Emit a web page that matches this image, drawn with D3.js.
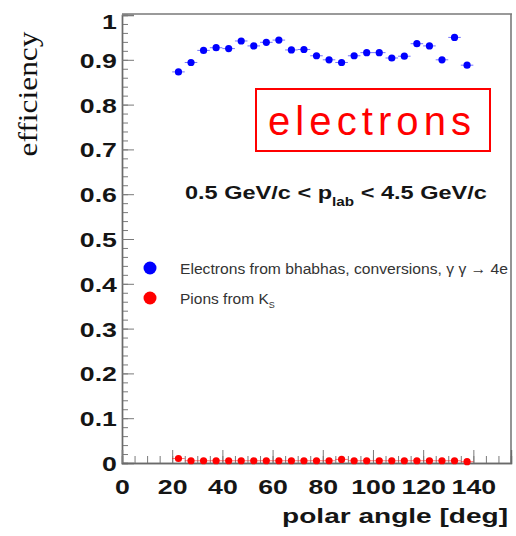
<!DOCTYPE html>
<html>
<head>
<meta charset="utf-8">
<script src="https://cdn.jsdelivr.net/npm/d3@7"></script>
<style>
  html, body { margin: 0; padding: 0; background: #fff; }
  svg { display: block; }
</style>
</head>
<body>
<svg id="chart" width="516" height="536"></svg>
<script>
// Polar-angle bin centres (deg) and half bin width
const angles = [22.5, 27.5, 32.5, 37.5, 42.5, 47.5, 52.5, 57.5, 62.5, 67.5, 72.5, 77.5,
                82.5, 87.5, 92.5, 97.5, 102.5, 107.5, 112.5, 117.5, 122.5, 127.5, 132.5, 137.5];
const binHalfWidth = 2.5;

// Identification efficiency per bin
const electronEff = [0.873, 0.894, 0.921, 0.927, 0.925, 0.942, 0.931, 0.939, 0.944, 0.922, 0.923, 0.909,
                     0.900, 0.894, 0.909, 0.916, 0.916, 0.904, 0.908, 0.936, 0.931, 0.900, 0.950, 0.888];
const pionEff = [0.010, 0.005, 0.005, 0.005, 0.005, 0.005, 0.005, 0.005, 0.005, 0.005, 0.005, 0.005,
                 0.005, 0.008, 0.005, 0.005, 0.005, 0.005, 0.005, 0.005, 0.005, 0.005, 0.005, 0.003];

// Axis ticks
const yMajorTicks = [0, 0.1, 0.2, 0.3, 0.4, 0.5, 0.6, 0.7, 0.8, 0.9, 1];
const yMinorTicks = d3.range(0, 1.0001, 0.02);
const xMajorTicks = [0, 20, 40, 60, 80, 100, 120, 140];
const xMinorTicks = d3.range(0, 155.01, 5);

// Legend entries
const legendLabels = ["Electrons from bhabhas, conversions, \u03B3 \u03B3 \u2192 4e", "Pions from K"];
const seriesColors = ["#0000ff", "#ff0000"];

const svg = d3.select("#chart");
const plotLeft = 122, plotRight = 511, plotTop = 15, plotBottom = 463;

const x = d3.scaleLinear().domain([0, 155]).range([plotLeft, plotRight]);
const y = d3.scaleLinear().domain([0, 1]).range([plotBottom, plotTop]);

const sansBold = "'Liberation Sans', Arial, Helvetica, sans-serif";
const stretch = 1.27;

// Frame (top and right edges)
svg.append("line").attr("x1", plotLeft).attr("x2", plotRight + 1).attr("y1", 14).attr("y2", 14)
  .attr("stroke", "#9a9a9a").attr("stroke-width", 2);
svg.append("line").attr("x1", plotRight).attr("x2", plotRight).attr("y1", 14).attr("y2", plotBottom)
  .attr("stroke", "#7a7a7a").attr("stroke-width", 1.6);

// Y axis: ticks pointing inside, labels on the left
const yMinor = svg.append("g").attr("transform", `translate(${plotLeft},0)`)
  .call(d3.axisRight(y).tickValues(yMinorTicks).tickSize(6).tickFormat(""));
const yMajor = svg.append("g").attr("transform", `translate(${plotLeft},0)`)
  .call(d3.axisRight(y).tickValues(yMajorTicks).tickSize(12).tickFormat(""));
[yMinor, yMajor].forEach(g => {
  g.select(".domain").attr("stroke", "#6a6a6a").attr("stroke-width", 1.4);
  g.selectAll(".tick line").attr("stroke", "#7a7a7a");
});

const yLabels = svg.append("g").attr("transform", `translate(${plotLeft},0)`)
  .call(d3.axisLeft(y).tickValues(yMajorTicks).tickSize(0).tickPadding(4)
    .tickFormat(d => d === 0 ? "0" : d === 1 ? "1" : d3.format(".1f")(d)));
yLabels.select(".domain").remove();
yLabels.selectAll(".tick text")
  .attr("font-family", sansBold).attr("font-weight", "bold").attr("font-size", 21)
  .attr("fill", "#151515")
  .attr("dy", d => d === 1 ? "0.62em" : "0.36em")
  .attr("transform", `scale(${stretch},1)`);

// X axis: ticks pointing up, labels below
const xMinor = svg.append("g").attr("transform", `translate(0,${plotBottom})`)
  .call(d3.axisTop(x).tickValues(xMinorTicks).tickSize(7).tickFormat(""));
const xMajor = svg.append("g").attr("transform", `translate(0,${plotBottom})`)
  .call(d3.axisTop(x).tickValues(xMajorTicks).tickSize(13).tickFormat(""));
[xMinor, xMajor].forEach(g => {
  g.select(".domain").attr("stroke", "#6a6a6a").attr("stroke-width", 1.4);
  g.selectAll(".tick line").attr("stroke", "#7a7a7a");
});

const xLabels = svg.append("g").attr("transform", `translate(0,${plotBottom})`)
  .call(d3.axisBottom(x).tickValues(xMajorTicks).tickSize(0).tickPadding(0).tickFormat(d3.format("d")));
xLabels.select(".domain").remove();
xLabels.selectAll(".tick text")
  .attr("font-family", sansBold).attr("font-weight", "bold").attr("font-size", 21)
  .attr("fill", "#151515")
  .attr("y", 31).attr("dy", 0)
  .attr("transform", `scale(${stretch},1)`);

// Scale a text element horizontally so that it spans a given width
function fitWidth(sel, x0, y0, width, anchor) {
  const w = sel.node().getComputedTextLength();
  const k = width / w;
  sel.attr("text-anchor", anchor || "start")
     .attr("transform", `translate(${x0},${y0}) scale(${k},1)`);
}

// Axis titles
const xTitle = svg.append("text")
  .attr("font-family", sansBold).attr("font-weight", "bold").attr("font-size", 21)
  .attr("fill", "#151515").text("polar angle [deg]");
fitWidth(xTitle, 508, 523, 226, "end");

svg.append("text")
  .attr("transform", "translate(37,94) rotate(-90)")
  .attr("text-anchor", "middle")
  .attr("font-family", "'Liberation Serif', 'Times New Roman', serif")
  .attr("font-size", 27).attr("fill", "#111")
  .attr("textLength", 125).attr("lengthAdjust", "spacingAndGlyphs")
  .text("efficiency");

// Momentum range caption
const caption = svg.append("text")
  .attr("font-family", sansBold).attr("font-weight", "bold").attr("font-size", 18.5)
  .attr("fill", "#151515");
caption.append("tspan").text("0.5 GeV/c < p");
caption.append("tspan").attr("font-size", 12).attr("dy", 7).text("lab");
caption.append("tspan").attr("dy", -7).text(" < 4.5 GeV/c");
{
  const bb = caption.node().getBBox();
  const k = 302 / bb.width;
  caption.attr("transform", `translate(185,198.5) scale(${k},1)`);
}

// "electrons" boxed label
svg.append("rect").attr("x", 256).attr("y", 89).attr("width", 234).attr("height", 62)
  .attr("fill", "#fff").attr("stroke", "#ff0000").attr("stroke-width", 2);
svg.append("text").attr("x", 268).attr("y", 135)
  .attr("font-family", "'Liberation Sans', Arial, sans-serif").attr("font-size", 40)
  .attr("fill", "#ff0000")
  .attr("textLength", 203).attr("lengthAdjust", "spacing")
  .text("electrons");

// Legend
const legend = svg.append("g");
const legendY = [268, 298];
legendLabels.forEach((lab, i) => {
  legend.append("circle").attr("cx", 150).attr("cy", legendY[i]).attr("r", 6.5)
    .attr("fill", seriesColors[i]);
  const t = legend.append("text").attr("x", 180).attr("y", legendY[i] + 5.5)
    .attr("font-family", "'Liberation Sans', Arial, sans-serif").attr("font-size", 15.5)
    .attr("fill", "#333");
  t.append("tspan").text(lab);
  if (i === 0) {
    t.attr("textLength", 328).attr("lengthAdjust", "spacingAndGlyphs");
  } else {
    t.append("tspan").attr("font-size", 9).attr("dy", 4).text("S");
  }
});

// Data points with horizontal bin-width bars
function drawSeries(values, color) {
  const g = svg.append("g");
  const pts = angles.map((a, i) => ({ a, v: values[i] }));
  g.selectAll("line").data(pts).join("line")
    .attr("x1", d => x(d.a - binHalfWidth)).attr("x2", d => x(d.a + binHalfWidth))
    .attr("y1", d => y(d.v)).attr("y2", d => y(d.v))
    .attr("stroke", color).attr("stroke-width", 1).attr("stroke-opacity", 0.55);
  g.selectAll("circle").data(pts).join("circle")
    .attr("cx", d => x(d.a)).attr("cy", d => y(d.v)).attr("r", 3.6)
    .attr("fill", color);
}
drawSeries(electronEff, seriesColors[0]);
drawSeries(pionEff, seriesColors[1]);
</script>
</body>
</html>
